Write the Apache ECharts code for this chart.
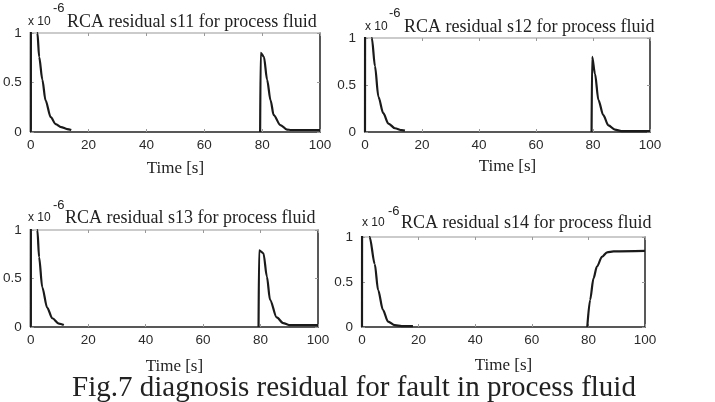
<!DOCTYPE html>
<html>
<head>
<meta charset="utf-8">
<script src="https://cdn.jsdelivr.net/npm/echarts@6/dist/echarts.min.js"></script>
<style>
html, body { margin: 0; padding: 0; background: #fff; }
#main { width: 715px; height: 402px; }
</style>
</head>
<body>
<div id="main"></div>
<script>
// 坐标轴刻度
var xTicks = [0, 20, 40, 60, 80, 100];
var yTicks = [0, 0.5, 1];

var plotTitles = [
    'RCA residual s11 for process fluid',
    'RCA residual s12 for process fluid',
    'RCA residual s13 for process fluid',
    'RCA residual s14 for process fluid'
];

// s11 (null 断开曲线)
var s11Time  = [0, 0.1, 0.8, 1.6, 2.3, 2.9, 4, 5.1, 6.9, 8.6, 10.5, 12.6, 14, null, 79.3, 79.5, 80.6, 81.7, 82.9, 84, 86.3, 88.6, 90, 100];
var s11Value = [0, 4.0, 2.6, 1.6, 1.0, 0.76, 0.53, 0.32, 0.15, 0.08, 0.05, 0.03, 0.02, null, 0, 0.8, 0.76, 0.53, 0.32, 0.17, 0.07, 0.025, 0.02, 0.02];

// s12
var s12Time  = [0, 0.1, 1, 2, 2.4, 3.5, 4.7, 6.4, 8.2, 10.5, 12.9, 14, null, 79.5, 79.7, 80.7, 81.9, 83.6, 85.4, 87.7, 90, 100];
var s12Value = [0, 4.0, 2.4, 1.5, 1.0, 0.70, 0.375, 0.2, 0.09, 0.04, 0.02, 0.015, null, 0, 0.8, 0.62, 0.34, 0.18, 0.07, 0.025, 0.01, 0.01];

// s13
var s13Time  = [0, 0.1, 0.8, 1.6, 2.3, 2.9, 4, 5.7, 7.5, 9.8, 11.5, null, 79.3, 79.5, 81, 82.2, 83.3, 85.6, 87.9, 90, 100];
var s13Value = [0, 4.0, 2.6, 1.6, 1.0, 0.72, 0.41, 0.2, 0.09, 0.035, 0.02, null, 0, 0.79, 0.76, 0.52, 0.28, 0.1, 0.04, 0.02, 0.02];

// s14
var s14Time  = [0, 0.1, 1, 2, 2.7, 4.5, 5.7, 7.4, 9.2, 11.6, 14, 18, null, 79.6, 80.6, 81.8, 83, 84.8, 86.6, 88.9, 100];
var s14Value = [0, 4.0, 2.5, 1.6, 1.0, 0.70, 0.41, 0.19, 0.06, 0.02, 0.01, 0.01, null, 0, 0.3, 0.54, 0.67, 0.78, 0.83, 0.84, 0.845];

var seriesTime = [s11Time, s12Time, s13Time, s14Time];
var seriesValue = [s11Value, s12Value, s13Value, s14Value];

// 各子图位置
var boxes = [
    { left: 28, top: 33, width: 292, height: 99, gap: 28, titleX: 67, titleY: 22, expX: 28, expY: 22, supX: 53, supY: 8 },
    { left: 365, top: 38, width: 285, height: 94, gap: 26, titleX: 404, titleY: 27, expX: 365, expY: 27, supX: 389, supY: 13 },
    { left: 28, top: 230, width: 290, height: 97, gap: 31, titleX: 65, titleY: 218, expX: 28, expY: 218, supX: 53, supY: 205 },
    { left: 362, top: 237, width: 283, height: 90, gap: 30, titleX: 401, titleY: 223, expX: 362, expY: 223, supX: 388, supY: 211 }
];

var tickFont = { fontFamily: 'Liberation Sans', fontSize: 13.5, color: '#2a2a2a' };

var grid = [], xAxis = [], yAxis = [], series = [], graphic = [];

for (var i = 0; i < 4; i++) {
    var b = boxes[i];
    grid.push({ left: b.left, top: b.top, width: b.width, height: b.height, containLabel: false });

    // 下方 x 轴
    xAxis.push({
        type: 'value', gridIndex: i, position: 'bottom',
        min: xTicks[0], max: xTicks[xTicks.length - 1], interval: xTicks[1] - xTicks[0],
        name: 'Time [s]', nameLocation: 'middle', nameGap: b.gap,
        nameTextStyle: { fontFamily: 'Liberation Serif', fontSize: 17, color: '#222', verticalAlign: 'top' },
        axisLine: { onZero: false, lineStyle: { color: '#222', width: 1.5 } },
        axisTick: { inside: true, length: 3, lineStyle: { color: '#999' } },
        axisLabel: { margin: 6, fontFamily: tickFont.fontFamily, fontSize: tickFont.fontSize, color: tickFont.color },
        splitLine: { show: false }
    });
    // 上方 x 轴（只画框）
    xAxis.push({
        type: 'value', gridIndex: i, position: 'top',
        min: xTicks[0], max: xTicks[xTicks.length - 1], interval: xTicks[1] - xTicks[0],
        axisLine: { onZero: false, lineStyle: { color: '#bbb', width: 1.5 } },
        axisTick: { inside: true, length: 3, lineStyle: { color: '#999' } },
        axisLabel: { show: false },
        splitLine: { show: false }
    });
    // 左 y 轴
    yAxis.push({
        type: 'value', gridIndex: i, position: 'left',
        min: yTicks[0], max: yTicks[yTicks.length - 1], interval: yTicks[1] - yTicks[0],
        axisLine: { show: true, onZero: false, lineStyle: { color: '#222', width: 1.5 } },
        axisTick: { show: true, inside: true, length: 3, lineStyle: { color: '#999' } },
        axisLabel: { margin: 9, fontFamily: tickFont.fontFamily, fontSize: tickFont.fontSize, color: tickFont.color },
        splitLine: { show: false }
    });
    // 右 y 轴（只画框）
    yAxis.push({
        type: 'value', gridIndex: i, position: 'right',
        min: yTicks[0], max: yTicks[yTicks.length - 1], interval: yTicks[1] - yTicks[0],
        axisLine: { show: true, onZero: false, lineStyle: { color: '#222', width: 1.5 } },
        axisTick: { show: true, inside: true, length: 3, lineStyle: { color: '#999' } },
        axisLabel: { show: false },
        splitLine: { show: false }
    });

    var data = [];
    for (var j = 0; j < seriesTime[i].length; j++) {
        if (seriesTime[i][j] === null) {
            data.push([NaN, NaN]);
        } else {
            data.push([seriesTime[i][j], seriesValue[i][j]]);
        }
    }
    series.push({
        type: 'line', xAxisIndex: i * 2, yAxisIndex: i * 2,
        data: data, showSymbol: false, symbol: 'none', clip: true,
        smooth: 0.3, smoothMonotone: 'x',
        connectNulls: false, animation: false,
        lineStyle: { color: '#1a1a1a', width: 2.2 }
    });

    // 标题与 x10^-6
    graphic.push({
        type: 'text', x: b.titleX, y: b.titleY,
        style: { text: plotTitles[i], font: '18px "Liberation Serif"', fill: '#222', textVerticalAlign: 'middle' }
    });
    graphic.push({
        type: 'text', x: b.expX, y: b.expY,
        style: { text: 'x 10', font: '12px "Liberation Sans"', fill: '#222', textVerticalAlign: 'middle' }
    });
    graphic.push({
        type: 'text', x: b.supX, y: b.supY,
        style: { text: '-6', font: '13px "Liberation Sans"', fill: '#222', textVerticalAlign: 'middle' }
    });
}

// 图注
graphic.push({
    type: 'text', x: 354, y: 388,
    style: { text: 'Fig.7 diagnosis residual for fault in process fluid', font: '29px "Liberation Serif"', fill: '#222', textAlign: 'center', textVerticalAlign: 'middle' }
});

var myChart = echarts.init(document.getElementById('main'));
myChart.setOption({
    animation: false,
    backgroundColor: '#fff',
    grid: grid,
    xAxis: xAxis,
    yAxis: yAxis,
    series: series,
    graphic: graphic
});
</script>
</body>
</html>
